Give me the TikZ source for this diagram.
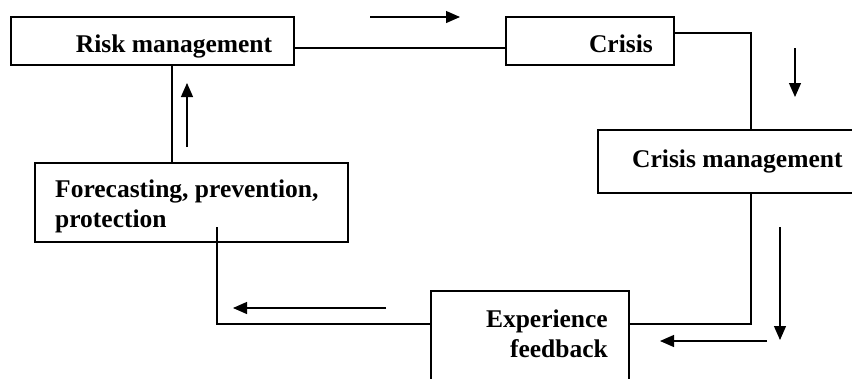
\documentclass[tikz,border=0pt]{standalone}
\usepackage{fontspec}
\setmainfont{Liberation Serif}
\usetikzlibrary{arrows.meta,calc}
\begin{document}
\begin{tikzpicture}[x=1pt,y=-1pt,
  boxstyle/.style={draw,line width=1.8pt,rectangle,inner sep=0pt},
  lbl/.style={inner sep=0pt,font=\bfseries\fontsize{25.5}{30}\selectfont},
  link/.style={line width=1.8pt},
  flowarrow/.style={line width=1.2pt,-{Triangle[length=14pt,width=12pt]}}]
\useasboundingbox (0,0) rectangle (852,378);
\clip (0,0) rectangle (852,378);
\fill[white] (0,0) rectangle (852,378);
% boxes
\node[boxstyle,minimum width=283pt,minimum height=48pt] (risk) at (152.5,41) {};
\node[boxstyle,minimum width=168pt,minimum height=48pt] (crisis) at (590,41) {};
\node[boxstyle,minimum width=272pt,minimum height=63pt] (cm) at (734,161.5) {};
\node[boxstyle,minimum width=198pt,minimum height=109pt] (exp) at (530,345.5) {};
\node[boxstyle,minimum width=313pt,minimum height=79pt] (fore) at (191.5,202.5) {};
% labels
\node[lbl,anchor=base] (trisk) at (174,52) {Risk management};
\node[lbl,anchor=base east] (tcrisis) at (653,52) {Crisis};
\node[lbl,anchor=base west] (tcm) at (632,167) {Crisis management};
\node[lbl,anchor=base east] (texp1) at (608,327) {Experience};
\node[lbl,anchor=base east] (texp2) at (608,357) {feedback};
\node[lbl,anchor=base west] (tfore1) at (55,197) {Forecasting, prevention,};
\node[lbl,anchor=base west] (tfore2) at (55,227) {protection};
% junction coordinates
\coordinate (jx) at (751,0);
\coordinate (fx) at (172,0);
\coordinate (fend) at (217,227);
% connectors
\draw[link] ($(risk.east)+(0,7)$) -- ($(crisis.west)+(0,7)$);
\draw[link] ($(crisis.east)+(0,-8)$) -| (jx |- cm.north);
\draw[link] (jx |- cm.south) |- ($(exp.east)+(0,-21.5)$);
\draw[link] ($(exp.west)+(0,-21.5)$) -| (fend);
\draw[link] (fx |- fore.north) -- (fx |- risk.south);
% direction arrows
\coordinate (a1s) at (370,17); \coordinate (a1e) at (460,17);
\coordinate (a2s) at (795,48); \coordinate (a2e) at (795,97);
\coordinate (a3s) at (780,227); \coordinate (a3e) at (780,340);
\coordinate (a4s) at (767,341); \coordinate (a4e) at (660,341);
\coordinate (a5s) at (386,308); \coordinate (a5e) at (233,308);
\coordinate (a6s) at (187,147); \coordinate (a6e) at (187,83);
\draw[flowarrow] (a1s) -- (a1e);
\draw[flowarrow] (a2s) -- (a2e);
\draw[flowarrow] (a3s) -- (a3e);
\draw[flowarrow] (a4s) -- (a4e);
\draw[flowarrow] (a5s) -- (a5e);
\draw[flowarrow] (a6s) -- (a6e);
\end{tikzpicture}
\end{document}
